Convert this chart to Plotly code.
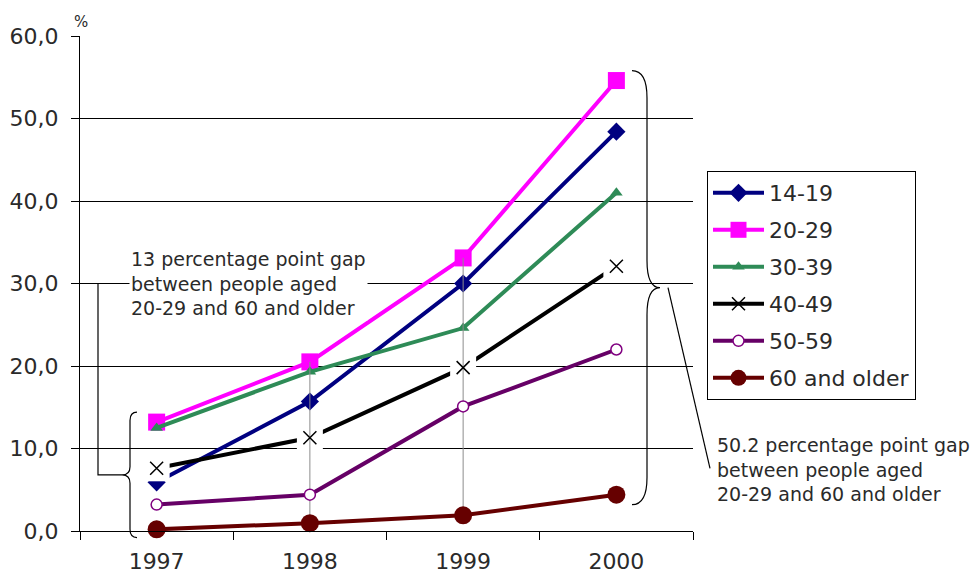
import plotly.graph_objects as go

# Share of people using the service, by age group (%)
years = ["1997", "1998", "1999", "2000"]
age_14_19 = [5.9, 15.7, 30.0, 48.4]
age_20_29 = [13.2, 20.5, 33.1, 54.6]
age_30_39 = [12.5, 19.3, 24.6, 41.0]
age_40_49 = [7.6, 11.3, 19.8, 32.1]
age_50_59 = [3.2, 4.4, 15.1, 22.0]
age_60_plus = [0.2, 0.95, 1.9, 4.4]

y_tick_values = [0, 10, 20, 30, 40, 50, 60]
y_tick_labels = ["0,0", "10,0", "20,0", "30,0", "40,0", "50,0", "60,0"]
drop_years = ["1998", "1999"]
Y_MAX = 60

FONT = "DejaVu Sans"
TEXT = "#2a2a2a"

# plot area in pixels (left, right) used for the hand-drawn braces
PX_LEFT, PX_RIGHT = 80, 693


def px(xpix):
    return (xpix - PX_LEFT) / (PX_RIGHT - PX_LEFT)


def py(value):
    """data value -> paper y (paper shapes are not clipped to the plot)."""
    return value / Y_MAX


def brace(x_spine, x_end, x_tip, y_low, y_high, curl):
    """SVG path of a curly brace (paper coordinates, values given in data units)."""
    y_mid = (y_low + y_high) / 2
    return (
        f"M{x_end},{py(y_high)} Q{x_spine},{py(y_high)} {x_spine},{py(y_high - curl)} "
        f"L{x_spine},{py(y_mid + curl)} Q{x_spine},{py(y_mid)} {x_tip},{py(y_mid)} "
        f"Q{x_spine},{py(y_mid)} {x_spine},{py(y_mid - curl)} "
        f"L{x_spine},{py(y_low + curl)} Q{x_spine},{py(y_low)} {x_end},{py(y_low)}"
    )


fig = go.Figure()


def series(name, values, color, symbol, size, width=4, **marker_extra):
    fig.add_trace(go.Scatter(
        x=years, y=values, name=name, legendgroup=name,
        mode="lines+markers",
        line=dict(color=color, width=width),
        marker=dict(symbol=symbol, size=size, color=color, **marker_extra),
        hoverinfo="skip", cliponaxis=False,
    ))


series("14-19", age_14_19, "#000080", "diamond", 14)
series("20-29", age_20_29, "#FF00FF", "square", 17)
series("30-39", age_30_39, "#2E8B57", "triangle-up", 11)
series("40-49", age_40_49, "#000000", "x-thin-open", 13,
       line=dict(color="#000000", width=1.5))

# white backing behind the 40-49 crosses (breaks the lines around them)
fig.add_trace(go.Scatter(
    x=years, y=age_40_49, mode="markers", showlegend=False, hoverinfo="skip",
    marker=dict(symbol="square", size=26, color="white"),
))

# thin grey high-low lines
all_series = [age_14_19, age_20_29, age_30_39, age_40_49, age_50_59, age_60_plus]
for yr in drop_years:
    i = years.index(yr)
    col = [s[i] for s in all_series]
    fig.add_trace(go.Scatter(
        x=[yr, yr], y=[max(col), min(col)], mode="lines", showlegend=False,
        hoverinfo="skip", line=dict(color="#8c8c8c", width=1),
    ))

fig.add_trace(go.Scatter(
    x=years, y=age_40_49, mode="markers", showlegend=False, hoverinfo="skip",
    marker=dict(symbol="x-thin-open", size=13, color="#000000",
                line=dict(color="#000000", width=1.5)),
))

series("50-59", age_50_59, "#660066", "circle", 11,
       line=dict(color="#800080", width=1.5))
fig.data[-1].marker.color = "white"
series("60 and older", age_60_plus, "#660000", "circle", 18)

# gap annotations
gap_1997 = round(age_20_29[0] - age_60_plus[0], 1)
gap_2000 = round(age_20_29[-1] - age_60_plus[-1], 1)
note = "{:g} percentage point gap<br>between people aged<br>20-29 and 60 and older"

shapes = []
# left brace spanning 1997 values
lo, hi = age_60_plus[0], age_20_29[0]
shapes.append(dict(type="path", xref="paper", yref="paper",
                   path=brace(px(130), px(137), px(122), lo - 1.0, hi + 1.2, 1.0),
                   line=dict(color="black", width=1.2)))
mid_left = (lo - 1.0 + hi + 1.2) / 2
shapes.append(dict(type="path", xref="paper", yref="paper",
                   path=(f"M{px(122)},{py(mid_left)} L{px(98)},{py(mid_left)} "
                         f"L{px(98)},{py(30)} L{px(129)},{py(30)}"),
                   line=dict(color="black", width=1.2)))

# right brace spanning 2000 values
lo, hi = age_60_plus[-1], age_20_29[-1]
shapes.append(dict(type="path", xref="paper", yref="paper",
                   path=brace(px(647), px(632), px(660), lo - 1.2, hi + 1.2, 3.3),
                   line=dict(color="black", width=1.2)))
mid_right = (lo - 1.2 + hi + 1.2) / 2
shapes.append(dict(type="line", xref="paper", yref="paper",
                   x0=px(668), y0=py(mid_right), x1=px(710), y1=py(7.6),
                   line=dict(color="black", width=1.2)))

annotations = [
    dict(text=note.format(gap_1997), xref="paper", yref="y", x=px(129), y=30,
         xanchor="left", yanchor="middle", align="left", showarrow=False,
         bgcolor="white", font=dict(family=FONT, size=19, color=TEXT)),
    dict(text=note.format(gap_2000), xref="paper", yref="y", x=px(715), y=7.4,
         xanchor="left", yanchor="middle", align="left", showarrow=False,
         font=dict(family=FONT, size=19, color=TEXT)),
    dict(text="%", xref="paper", yref="paper", x=px(81), y=1.0, yshift=14,
         xanchor="center", yanchor="middle", showarrow=False,
         font=dict(family=FONT, size=15, color=TEXT)),
]

fig.update_layout(
    width=975, height=574,
    margin=dict(l=PX_LEFT, r=975 - PX_RIGHT, t=36, b=43),
    paper_bgcolor="white", plot_bgcolor="white",
    font=dict(family=FONT, size=22, color=TEXT),
    showlegend=True,
    legend=dict(
        x=px(707), y=(531 - 171) / 495, xanchor="left", yanchor="top",
        bgcolor="white", bordercolor="black", borderwidth=1,
        font=dict(family=FONT, size=22, color=TEXT),
        tracegroupgap=5.4, itemwidth=51,
    ),
    xaxis=dict(
        type="category", tickson="boundaries", ticks="outside", ticklen=8,
        tickcolor="black", showgrid=False, showline=True, linecolor="black",
        linewidth=1, range=[-0.5, 3.5], ticklabelstandoff=11,
        automargin=False,
        tickfont=dict(family=FONT, size=22, color=TEXT),
    ),
    yaxis=dict(
        range=[0, Y_MAX], tickvals=y_tick_values, ticktext=y_tick_labels,
        ticks="outside", ticklen=8, tickcolor="black", showline=True,
        linecolor="black", linewidth=1, showgrid=True, gridcolor="black",
        gridwidth=1, zeroline=False, ticklabelstandoff=8, automargin=False,
        tickfont=dict(family=FONT, size=22, color=TEXT),
    ),
    shapes=shapes,
    annotations=annotations,
)

fig.write_html("out.html")
